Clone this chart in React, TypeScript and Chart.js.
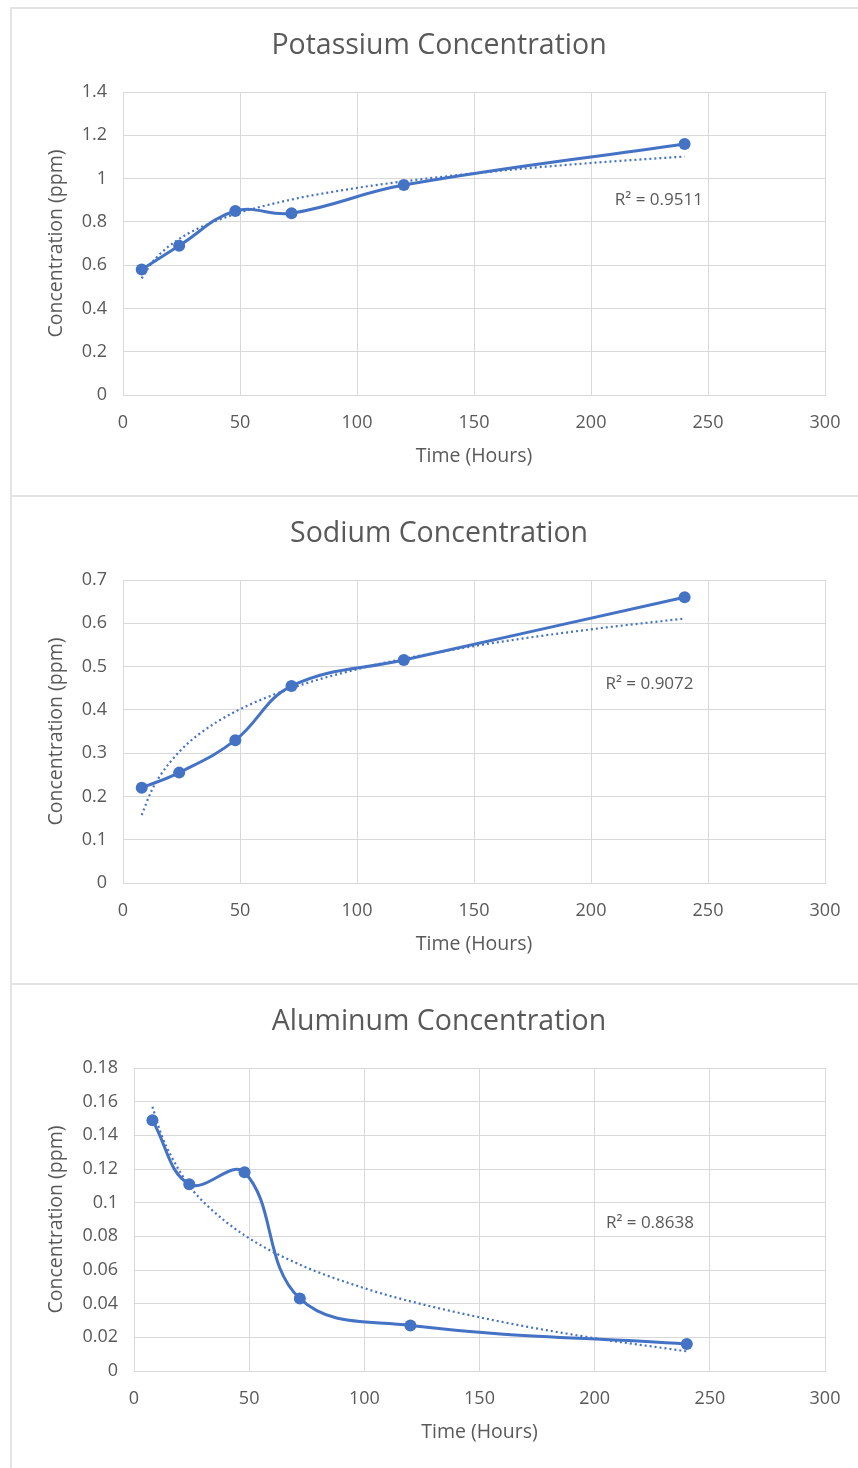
import React, { useEffect, useRef } from "react";
import { Chart, registerables } from "chart.js";
Chart.register(...registerables);

// ---- Data ----
const hours = [8, 24, 48, 72, 120, 240];
const potassium = [0.58, 0.69, 0.85, 0.84, 0.97, 1.16];
const sodium = [0.22, 0.255, 0.33, 0.455, 0.515, 0.66];
const aluminum = [0.149, 0.111, 0.118, 0.043, 0.027, 0.016];

// dotted trendlines
const trendHours = [8, 12, 16, 24, 32, 48, 72, 100, 120, 160, 200, 240];
const potassiumTrend = [0.539, 0.606, 0.654, 0.721, 0.769, 0.836, 0.903, 0.957, 0.987, 1.035, 1.072, 1.102];
const sodiumTrend = [0.157, 0.211, 0.249, 0.303, 0.342, 0.396, 0.45, 0.494, 0.518, 0.556, 0.586, 0.611];
const aluminumTrend = [0.157, 0.14, 0.128, 0.11, 0.098, 0.0806, 0.0632, 0.0492, 0.0414, 0.0291, 0.0195, 0.0117];

const titles = ["Potassium Concentration", "Sodium Concentration", "Aluminum Concentration"];
const r2Labels = ["R² = 0.9511", "R² = 0.9072", "R² = 0.8638"];
const yMaxes = [1.4, 0.7, 0.18];
const ySteps = [0.2, 0.1, 0.02];
const xMax = 300;
const xStep = 50;
const xTitle = "Time (Hours)";
const yTitle = "Concentration (ppm)";

const BLUE = "#4472C4";
const TEXT = "#595959";
const GRID = "#d9d9d9";
const FONT = "'Open Sans', 'Noto Sans', sans-serif";

const CANVAS_W = 846;
const CANVAS_H = 486;

type PanelProps = {
  title: string;
  values: number[];
  trend: number[];
  yMax: number;
  yStep: number;
  r2: string;
  r2At: [number, number];
  yAxisWidth: number;
};

function fmt(v: number) {
  return String(+Number(v).toFixed(4));
}

function ChartPanel(p: PanelProps) {
  const ref = useRef<HTMLCanvasElement | null>(null);
  useEffect(() => {
    if (!ref.current) return;
    const textPlugin = {
      id: "texts",
      afterDraw(chart: any) {
        const { ctx, scales } = chart;
        ctx.save();
        ctx.fillStyle = TEXT;
        ctx.textAlign = "center";
        ctx.textBaseline = "middle";
        // chart title
        ctx.font = `28.5px ${FONT}`;
        ctx.fillText(p.title, 427, 37);
        // R² label
        const x = scales.x.getPixelForValue(p.r2At[0]);
        const y = scales.y.getPixelForValue(p.r2At[1]);
        ctx.font = `17px ${FONT}`;
        ctx.fillText(p.r2, x, y);
        ctx.restore();
      },
    };
    const chart = new Chart(ref.current, {
      type: "scatter",
      data: {
        datasets: [
          {
            label: "data",
            data: hours.map((h, i) => ({ x: h, y: p.values[i] })),
            showLine: true,
            borderColor: BLUE,
            backgroundColor: BLUE,
            borderWidth: 3,
            pointRadius: 6,
            pointBorderWidth: 0,
            tension: 0.4,
            order: 0,
          },
          {
            label: "trend",
            data: trendHours.map((h, i) => ({ x: h, y: p.trend[i] })),
            showLine: true,
            borderColor: BLUE,
            borderWidth: 2.2,
            borderDash: [2, 3],
            pointRadius: 0,
            cubicInterpolationMode: "monotone",
            order: 1,
          },
        ],
      },
      options: {
        responsive: false,
        animation: false,
        events: [],
        layout: { padding: { left: 0, right: 33, top: 83, bottom: 0 } },
        plugins: {
          legend: { display: false },
          tooltip: { enabled: false },
          title: { display: false },
        },
        scales: {
          x: {
            type: "linear",
            min: 0,
            max: xMax,
            afterFit(s: any) {
              s.height = 100;
            },
            ticks: {
              stepSize: xStep,
              color: TEXT,
              padding: 17,
              font: { family: FONT, size: 18 },
              callback: (v: any) => fmt(v),
            },
            grid: { color: GRID, drawTicks: false, lineWidth: 1 },
            border: { color: GRID },
            title: {
              display: true,
              text: xTitle,
              color: TEXT,
              font: { family: FONT, size: 19.5 },
              padding: { top: 0, bottom: 27 },
            },
          },
          y: {
            type: "linear",
            min: 0,
            max: p.yMax,
            afterFit(s: any) {
              s.width = p.yAxisWidth;
            },
            ticks: {
              stepSize: p.yStep,
              color: TEXT,
              padding: 16,
              font: { family: FONT, size: 18 },
              callback: (v: any) => fmt(v),
            },
            grid: { color: GRID, drawTicks: false, lineWidth: 1 },
            border: { color: GRID },
            title: {
              display: true,
              text: yTitle,
              color: TEXT,
              font: { family: FONT, size: 19.5 },
              padding: { top: 33, bottom: 0 },
            },
          },
        },
      },
      plugins: [textPlugin],
    } as any);
    return () => chart.destroy();
  }, []);
  return <canvas ref={ref} width={CANVAS_W} height={CANVAS_H} style={{ display: "block", width: CANVAS_W, height: CANVAS_H }} />;
}

const panelTops = [7, 495, 983];
const panelHeights = [490, 490, 500];
const valuesList = [potassium, sodium, aluminum];
const trendList = [potassiumTrend, sodiumTrend, aluminumTrend];
const r2Positions: [number, number][] = [
  [229, 0.9],
  [225, 0.46],
  [224, 0.088],
];
const yAxisWidths = [111, 111, 122];

export default function App() {
  return (
    <div style={{ position: "absolute", left: 0, top: 0, width: 858, height: 1468, overflow: "hidden", background: "#fff" }}>
      {titles.map((t, i) => (
        <div
          key={t}
          style={{
            position: "absolute",
            left: 10,
            top: panelTops[i],
            width: 870,
            height: panelHeights[i],
            border: "2px solid #e3e3e3",
            boxSizing: "border-box",
            overflow: "hidden",
          }}
        >
          <ChartPanel
            title={t}
            values={valuesList[i]}
            trend={trendList[i]}
            yMax={yMaxes[i]}
            yStep={ySteps[i]}
            r2={r2Labels[i]}
            r2At={r2Positions[i]}
            yAxisWidth={yAxisWidths[i]}
          />
        </div>
      ))}
    </div>
  );
}
